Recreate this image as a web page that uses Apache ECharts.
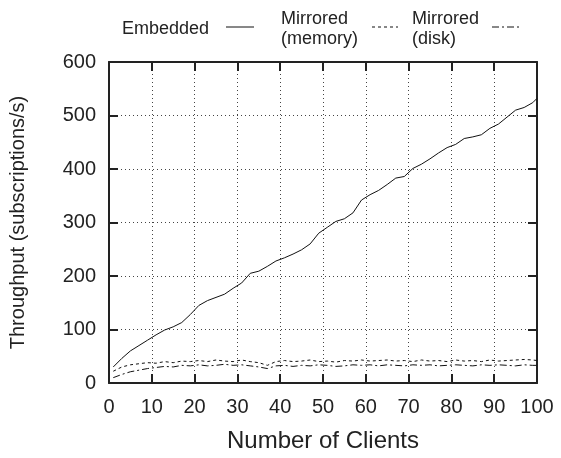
<!DOCTYPE html>
<html><head><meta charset="utf-8">
<script src="https://cdn.jsdelivr.net/npm/echarts@6/dist/echarts.min.js"></script>
<style>html,body{margin:0;padding:0;background:#fff}#c{width:561px;height:458px}</style>
</head><body><div id="c"></div>
<script>
const clients = [1,3,5,7,9,11,13,15,17,19,21,23,25,27,29,31,33,35,37,39,41,43,45,47,49,51,53,55,57,59,61,63,65,67,69,71,73,75,77,79,81,83,85,87,89,91,93,95,97,99,100];
const embedded = [30,46,60,70,80,90,99,105,113,128,145,154,160,166,177,187,205,209,218,228,234,241,249,260,280,291,302,307,318,342,352,360,371,383,386,401,409,419,430,440,446,457,460,464,476,484,497,510,515,524,532];
const mirroredMemory = [22,30,34,36,38,37,40,38,41,40,42,40,43,41,40,43,40,38,33,40,42,40,41,43,40,41,39,42,41,43,41,42,43,41,42,40,43,41,42,40,43,41,42,40,43,41,42,43,44,43,42];
const mirroredDisk = [10,16,21,24,27,29,31,30,33,32,34,32,33,35,33,34,32,30,27,32,33,31,33,32,34,33,31,32,34,33,34,32,34,33,32,34,33,34,32,33,34,33,32,34,33,34,33,32,34,33,33];
const seriesNames = ['Embedded', 'Mirrored\n(memory)', 'Mirrored\n(disk)'];
const xTicks = {min: 0, max: 100, interval: 10};
const yTicks = {min: 0, max: 600, interval: 100};

const txt = '#222';
const font = 'Liberation Sans, Arial, sans-serif';
const dashes = [null, [3, 3], [7, 3, 2, 3]];
const pair = (arr) => clients.map((c, i) => [c, arr[i]]);
const axisLine = {show: true, onZero: false, lineStyle: {color: '#222', width: 2}};
const tick = {show: true, inside: true, length: 9, lineStyle: {color: '#222', width: 2}};
const grid = {show: true, lineStyle: {color: '#444', width: 1, type: [1, 3]}};

// legend layout (text left x, sample start x, sample end x)
const legendPos = [[122, 226, 254], [281, 372, 398], [412, 492, 520]];
const legendY = 27;
const legendGraphics = [];
seriesNames.forEach((n, i) => {
  const p = legendPos[i];
  legendGraphics.push({type: 'text', left: p[0], top: n.includes('\n') ? legendY - 18 : legendY - 8,
    style: {text: n, font: '18px ' + font, fill: txt, lineHeight: 20, align: 'left'}});
  legendGraphics.push({type: 'line', shape: {x1: p[1], y1: legendY, x2: p[2], y2: legendY},
    style: {stroke: '#111', lineWidth: 1, lineDash: dashes[i] || null}});
});

const chart = echarts.init(document.getElementById('c'), null, {renderer: 'canvas'});
chart.setOption({
  animation: false,
  backgroundColor: '#fff',
  textStyle: {fontFamily: font, color: txt},
  grid: {left: 105, right: 24, top: 62, bottom: 75, containLabel: false},
  graphic: legendGraphics,
  xAxis: [
    {type: 'value', min: xTicks.min, max: xTicks.max, interval: xTicks.interval, position: 'bottom',
     name: 'Number of Clients', nameLocation: 'middle', nameGap: 46,
     nameTextStyle: {fontSize: 24, color: txt, fontFamily: font},
     axisLine: axisLine, axisTick: tick, splitLine: grid,
     axisLabel: {fontSize: 20, color: txt, margin: 14, fontFamily: font}},
    {type: 'value', min: xTicks.min, max: xTicks.max, interval: xTicks.interval, position: 'top',
     axisLine: axisLine, axisTick: tick, splitLine: {show: false}, axisLabel: {show: false}}
  ],
  yAxis: [
    {type: 'value', min: yTicks.min, max: yTicks.max, interval: yTicks.interval, position: 'left',
     name: 'Throughput (subscriptions/s)', nameLocation: 'middle', nameGap: 81, nameRotate: 90,
     nameTextStyle: {fontSize: 20, color: txt, fontFamily: font},
     axisLine: axisLine, axisTick: tick, splitLine: grid,
     axisLabel: {fontSize: 20, color: txt, margin: 13, fontFamily: font}},
    {type: 'value', min: yTicks.min, max: yTicks.max, interval: yTicks.interval, position: 'right',
     axisLine: axisLine, axisTick: tick, splitLine: {show: false}, axisLabel: {show: false}}
  ],
  series: [
    {name: seriesNames[0], type: 'line', data: pair(embedded), showSymbol: false, symbol: 'none',
     lineStyle: {color: '#111', width: 1}, itemStyle: {color: '#111'}},
    {name: seriesNames[1], type: 'line', data: pair(mirroredMemory), showSymbol: false, symbol: 'none',
     lineStyle: {color: '#111', width: 1, type: dashes[1]}, itemStyle: {color: '#111'}},
    {name: seriesNames[2], type: 'line', data: pair(mirroredDisk), showSymbol: false, symbol: 'none',
     lineStyle: {color: '#111', width: 1, type: dashes[2]}, itemStyle: {color: '#111'}}
  ]
});
</script></body></html>
